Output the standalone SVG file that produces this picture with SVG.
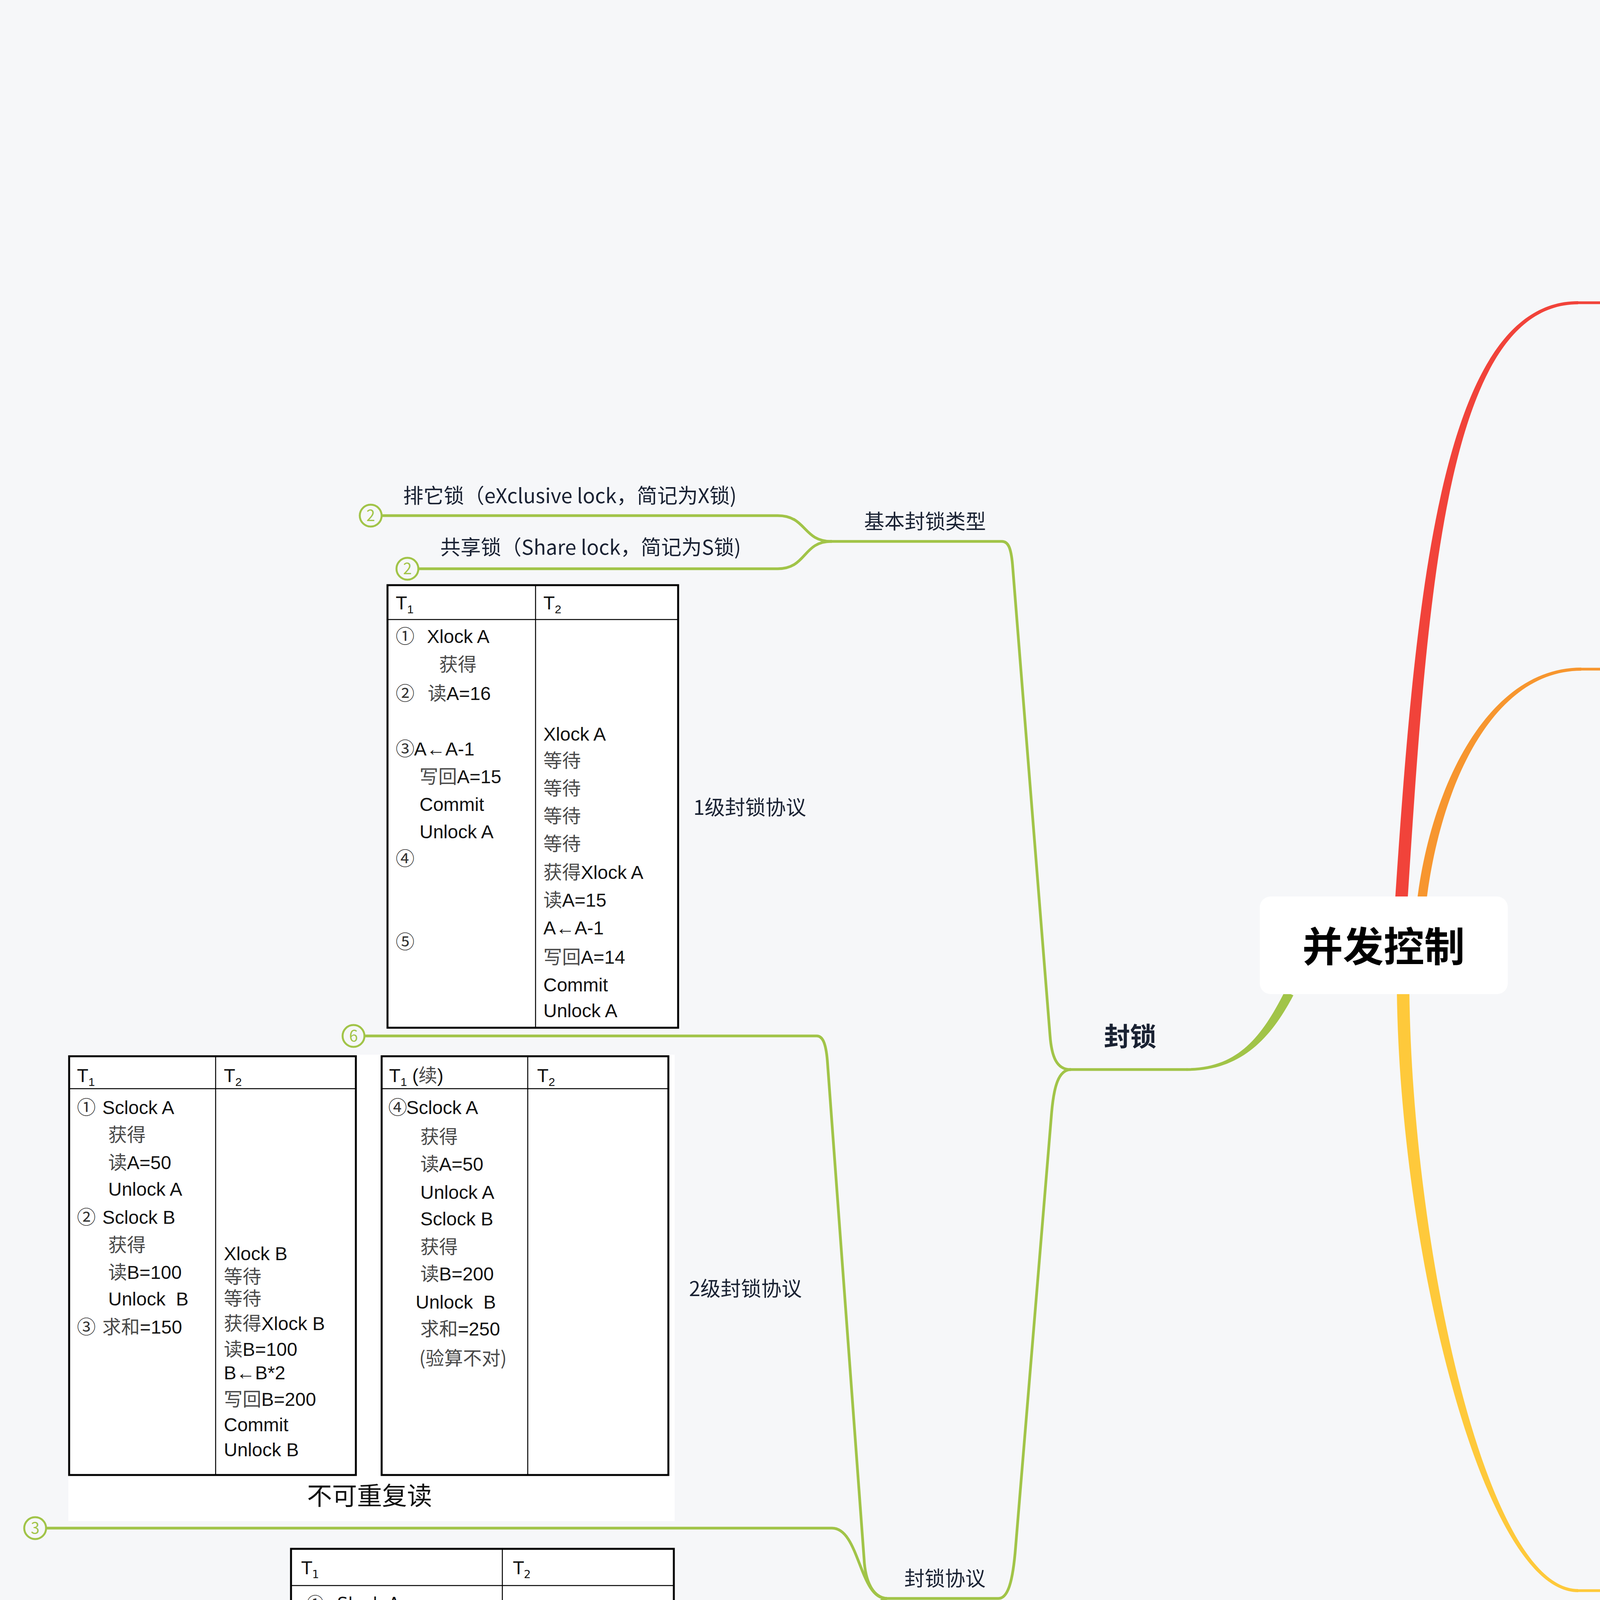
<svg xmlns="http://www.w3.org/2000/svg" width="7452" height="5600" viewBox="0 0 7452 5600">
<style>
.t{font-family:"Noto Sans CJK SC","Noto Sans",sans-serif;fill:#1a2233;font-size:52px}
.b{font-weight:bold;font-size:67px}
.ln{fill:none;stroke-width:7;stroke-linecap:round;stroke-linejoin:round}
.r{stroke:#f1433a}.o{stroke:#f7962f}.y{stroke:#fec93b}.g{stroke:#a1c448}
.cc circle{fill:#f6f7f9;stroke-width:5}
.cc text{font-family:"Noto Sans CJK SC",sans-serif;font-size:40px;text-anchor:middle}
.tx{font-family:"Liberation Sans","Noto Sans CJK SC",sans-serif;fill:#111}
.vd{font-family:"DejaVu Sans","Noto Sans CJK SC",sans-serif;fill:#111}
.cn{font-family:"Noto Sans CJK SC",sans-serif;fill:#4a4a4a}
.ci{font-family:"Noto Sans CJK SC",sans-serif;fill:#333}
.fr{fill:#fff;stroke:#000;stroke-width:5}
.fp{fill:none;stroke:#000;stroke-width:5}
.tl{stroke:#000;stroke-width:2.5}
.pk{fill:#ffe6f6}
.cap{font-family:"Liberation Serif","Noto Sans CJK SC",serif;font-weight:bold;fill:#111;font-size:64px}
</style>
<rect width="7452" height="5600" fill="#f6f7f9"/>

<g id="connectors">
  <!-- red -->
  <path fill="#f1433a" d="M 3572 2296 C 3625 1500, 3694 771, 4040 771 L 4040 779 C 3706 779, 3655 1500, 3604 2296 Z"/>
  <path class="ln r" d="M 4040 775 L 4690 775"/>
  <path class="ln r" d="M 4690 775 C 4722 772, 4745 735, 4752 690 L 4800 400 C 4808 350, 4830 326, 4870 326 L 5314 326"/>
  <path class="ln r" d="M 4690 775 C 4740 775, 4745 723, 4830 723 L 6055 723"/>
  <path class="ln r" d="M 4690 775 C 4722 778, 4738 820, 4745 870 L 4800 1150 C 4810 1200, 4830 1220, 4870 1220 L 5753 1220"/>
  <path class="ln r" d="M 5314 326 C 5400 326, 5394 224, 5480 224 L 6648 224"/>
  <path class="ln r" d="M 5314 326 C 5400 326, 5394 426, 5480 426 L 6648 426"/>
  <path class="ln r" d="M 6055 723 C 6140 723, 6120 621, 6205 621 L 7385 621"/>
  <path class="ln r" d="M 6055 723 C 6140 723, 6120 824, 6205 824 L 7385 824"/>
  <path class="ln r" d="M 5753 1220 C 5850 1220, 5830 1087, 5925 1087 L 7096 1087"/>
  <path class="ln r" d="M 5753 1220 L 6882 1220"/>
  <path class="ln r" d="M 5753 1220 C 5850 1220, 5830 1356, 5925 1356 L 6513 1356"/>
  <!-- orange -->
  <path fill="#f7962f" d="M 3629 2296 C 3668 2000, 3815 1709, 4048 1709 L 4048 1717 C 3825 1717, 3692 2000, 3653 2296 Z"/>
  <path class="ln o" d="M 4048 1713 L 4815 1713"/>
  <path class="ln o" d="M 4815 1713 C 4900 1713, 4900 1585, 4990 1585 L 5638 1585"/>
  <path class="ln o" d="M 4815 1713 L 5481 1713"/>
  <path class="ln o" d="M 4815 1713 C 4900 1713, 4900 1841, 4990 1841 L 5533 1841"/>
  <!-- yellow -->
  <path fill="#fec93b" d="M 3576 2540 C 3584 3200, 3795 4076, 4040 4076 L 4040 4068 C 3805 4068, 3616 3200, 3608 2540 Z"/>
  <path class="ln y" d="M 4040 4072 L 5086 4072"/>
  <path class="ln y" d="M 5086 4072 C 5140 4072, 5160 4030, 5165 3980 L 5185 3190 C 5190 3135, 5210 3109, 5252 3109 L 6755 3109"/>
  <path class="ln y" d="M 5086 4072 L 7045 4072"/>
  <path class="ln y" d="M 5086 4072 C 5140 4072, 5160 4115, 5165 4165 L 5185 4945 C 5190 5000, 5210 5027, 5252 5027 L 6742 5027"/>
  <!-- green -->
  <path fill="#a1c448" d="M 3289 2538 C 3230 2655, 3168 2734.5, 3038 2734.5 L 3038 2741.5 C 3172 2741.5, 3250 2665, 3311 2548 Z"/>
  <path class="ln g" d="M 3038 2738 L 2740 2738"/>
  <path class="ln g" d="M 2740 2738 C 2705 2738, 2692 2705, 2688 2650 L 2592 1445 C 2588 1400, 2580 1386, 2565 1386 L 2128 1386"/>
  <path class="ln g" d="M 2128 1386 C 2055 1386, 2065 1320, 1991 1320 L 977 1320"/>
  <path class="ln g" d="M 2128 1386 C 2055 1386, 2065 1456, 1991 1456 L 1071 1456"/>
  <path class="ln g" d="M 2740 2738 C 2710 2740, 2698 2780, 2692 2850 L 2600 3960 C 2593 4050, 2580 4092, 2556 4092 L 2269 4092"/>
  <path class="ln g" d="M 2269 4092 C 2235 4088, 2215 4050, 2212 3990 L 2118 2715 C 2114 2668, 2105 2652, 2091 2652 L 933 2652"/>
  <path class="ln g" d="M 2269 4092 C 2200 4092, 2200 3912, 2130 3912 L 118 3912"/>
  <path class="ln g" d="M 2269 4092 C 2240 4098, 2225 4140, 2220 4200 L 2118 5465 C 2113 5512, 2105 5528, 2091 5528 L 684 5528"/>
  <!-- count markers -->
  <g class="cc">
    <circle cx="6783" cy="3109" r="28" stroke="#fec93b"/><text x="6783" y="3123" fill="#fec93b">2</text>
    <circle cx="7073" cy="4072" r="28" stroke="#fec93b"/><text x="7073" y="4086" fill="#fec93b">1</text>
    <circle cx="6770" cy="5027" r="28" stroke="#fec93b"/><text x="6770" y="5041" fill="#fec93b">5</text>
    <circle cx="949" cy="1320" r="28" stroke="#a1c448"/><text x="949" y="1334" fill="#a1c448">2</text>
    <circle cx="1043" cy="1456" r="28" stroke="#a1c448"/><text x="1043" y="1470" fill="#a1c448">2</text>
    <circle cx="905" cy="2652" r="28" stroke="#a1c448"/><text x="905" y="2666" fill="#a1c448">6</text>
    <circle cx="90" cy="3912" r="28" stroke="#a1c448"/><text x="90" y="3926" fill="#a1c448">3</text>
    <circle cx="656" cy="5528" r="28" stroke="#a1c448"/><text x="656" y="5542" fill="#a1c448">2</text>
  </g>
</g>

<g id="root">
  <rect x="3225" y="2295" width="635" height="250" rx="28" fill="#fff"/>
  <text x="3542" y="2462" text-anchor="middle" font-family="Noto Sans CJK SC, sans-serif" font-weight="bold" font-size="104" fill="#000">并发控制</text>
</g>

<g id="n-multi" class="t">
  <text class="t b" x="4125" y="714">多事务执行方式</text>
</g>
<g id="n-serial" class="t">
  <text class="t" x="4897" y="292">⑴事务串行执行</text>
  <text class="t" x="5516" y="124">每个时刻只有一个事务运行，其他事务必须等到</text>
  <text class="t" x="5516" y="191">这个事务结束以后方能运行</text>
  <text class="t" x="5516" y="328">不能充分利用系统资源，发挥数据库共享资源的</text>
  <text class="t" x="5516" y="394">特点</text>
</g>
<g id="n-interleaved">
  <text class="t" x="4897" y="691">⑵交叉并发方式（interleaved concurrency)</text>
  <text class="t" x="6258" y="522">事务的并行执行是这些并行事务的并行操作轮流</text>
  <text class="t" x="6258" y="589">交叉运行</text>
  <text class="t" x="6258" y="724">是单处理机系统中的并发方式，能够减少处理机</text>
  <text class="t" x="6258" y="791">的空闲时间，提高系统的效率</text>
</g>
<g id="n-simultaneous">
  <text class="t" x="4897" y="1124">⑶同时并发方式（simultaneous</text>
  <text class="t" x="4897" y="1190">concurrency)</text>
  <text class="t" x="5960" y="918">多处理机系统中，每个处理机可以运行一个事</text>
  <text class="t" x="5960" y="985">务，多个处理机可以同时运行多个事务，实现多</text>
  <text class="t" x="5960" y="1052">个事务真正的并行运行</text>
  <text class="t" x="5960" y="1188">最理想的并发方式，但受制于硬件环境</text>
  <text class="t" x="5960" y="1322">更复杂的并发方式机制</text>
</g>

<g id="n-task">
  <text class="t b" x="4128" y="1652">并发控制机制的任务</text>
  <text class="t" x="5028" y="1553">对并发操作进行正确调度</text>
  <text class="t" x="5028" y="1680">保证事务的隔离性</text>
  <text class="t" x="5028" y="1809">保证数据库的一致性</text>
</g>

<g id="n-inconsistency">
  <text class="t b" x="4125" y="4008">并发操作带来的数据不一致性</text>
</g>

<g id="n-lost-update">
  <rect class="pk" x="5301" y="1984" width="749" height="1106"/>
  <rect class="fp" x="5364" y="2056" width="638" height="888"/>
  <line class="tl" x1="5364" y1="2144" x2="6002" y2="2144"/>
  <line class="tl" x1="5704" y1="2056" x2="5704" y2="2944"/>
  <g font-size="54">
    <text class="tx" x="5385" y="2128">T<tspan font-size="34" dy="12">1</tspan></text>
    <text class="tx" x="5724" y="2128">T<tspan font-size="34" dy="12">2</tspan></text>
    <text class="ci" x="5383" y="2208">①</text><text class="tx" x="5458" y="2208"><tspan class="cn">读</tspan>A=16</text>
    <text class="ci" x="5383" y="2368">②</text>
    <text class="tx" x="5725" y="2400"><tspan class="cn">读</tspan>A=16</text>
    <text class="ci" x="5383" y="2533">③</text><text class="tx" x="5455" y="2533">A←A-1</text>
    <text class="cn" x="5457" y="2612">写回</text>
    <text class="tx" x="5383" y="2677">A=15</text>
    <text class="ci" x="5383" y="2838">④</text>
    <text class="tx" x="5722" y="2800">A←A-1</text>
    <text class="tx" x="5725" y="2882"><tspan class="cn">写回</tspan>A=15</text>
  </g>
  <text class="cap" x="5500" y="3050">(a) 丢失修改</text>
  <text class="t" x="6091" y="2560">丢失修改（lost update)</text>
</g>

<g id="n-nonrepeatable">
  <rect class="pk" x="5302" y="3151" width="747" height="908"/>
  <rect class="fp" x="5353" y="3184" width="670" height="781"/>
  <line class="tl" x1="5353" y1="3260" x2="6023" y2="3260"/>
  <line class="tl" x1="5717" y1="3184" x2="5717" y2="3965"/>
  <g font-size="46">
    <text class="tx" x="5371" y="3240">T<tspan font-size="30" dy="10">1</tspan></text>
    <text class="tx" x="5734" y="3240">T<tspan font-size="30" dy="10">2</tspan></text>
    <text class="ci" x="5367" y="3317">①</text><text class="tx" x="5435" y="3317"><tspan class="cn">读</tspan>A=50</text>
    <text class="tx" x="5446" y="3387"><tspan class="cn">读</tspan>B=100</text>
    <text class="tx" x="5446" y="3458"><tspan class="cn">求和</tspan>=150</text>
    <text class="ci" x="5367" y="3527">②</text>
    <text class="tx" x="5737" y="3553"><tspan class="cn">读</tspan>B=100</text>
    <text class="tx" x="5765" y="3620">B←B*2</text>
    <text class="tx" x="5737" y="3690"><tspan class="cn">写回</tspan>B=200</text>
    <text class="ci" x="5367" y="3735">③</text><text class="tx" x="5435" y="3735"><tspan class="cn">读</tspan>A=50</text>
    <text class="tx" x="5446" y="3808"><tspan class="cn">读</tspan>B=200</text>
    <text class="tx" x="5446" y="3875"><tspan class="cn">求和</tspan>=250</text>
    <text class="cn" x="5416" y="3948">(验算不对)</text>
  </g>
  <text class="cap" x="5480" y="4033" font-size="60">(b) 不可重复读</text>
  <text class="t" x="6089" y="3627">不可重复读（non-repeatable read)</text>
</g>

<g id="n-dirty">
  <rect class="pk" x="5302" y="4118" width="747" height="890"/>
  <rect class="fp" x="5335" y="4145" width="670" height="726"/>
  <line class="tl" x1="5335" y1="4228" x2="6005" y2="4228"/>
  <line class="tl" x1="5717" y1="4145" x2="5717" y2="4871"/>
  <g font-size="52">
    <text class="tx" x="5355" y="4210">T<tspan font-size="32" dy="11">1</tspan></text>
    <text class="tx" x="5740" y="4210">T<tspan font-size="32" dy="11">2</tspan></text>
    <text class="ci" x="5355" y="4293">①</text><text class="tx" x="5425" y="4293"><tspan class="cn">读</tspan>C=100</text>
    <text class="tx" x="5437" y="4365">C←C*2</text>
    <text class="tx" x="5437" y="4444"><tspan class="cn">写回</tspan>C</text>
    <text class="ci" x="5355" y="4522">②</text>
    <text class="tx" x="5740" y="4545"><tspan class="cn">读</tspan>C=200</text>
    <text class="ci" x="5355" y="4750">③</text><text class="tx" x="5425" y="4750">ROLLBACK</text>
    <text class="tx" x="5437" y="4826">C<tspan class="cn">恢复为</tspan>100</text>
  </g>
  <text class="cap" x="5371" y="4980" font-size="60">(c) 读 “脏” 数据</text>
  <text class="t" x="6089" y="4583">读“脏”数据（dirty read)</text>
</g>

<g id="n-lock">
  <text class="t b" x="2826" y="2678">封锁</text>
</g>

<g id="n-basic-types">
  <text class="t" x="2212" y="1354">基本封锁类型</text>
  <text class="t" x="1032" y="1288">排它锁（eXclusive lock，简记为X锁)</text>
  <text class="t" x="1127" y="1420">共享锁（Share lock，简记为S锁)</text>
</g>

<g id="n-protocol">
  <text class="t" x="2315" y="4060">封锁协议</text>
</g>

<g id="n-level1">
  <rect class="fr" x="992" y="1498" width="744" height="1133"/>
  <line class="tl" x1="992" y1="1586" x2="1736" y2="1586"/>
  <line class="tl" x1="1371" y1="1498" x2="1371" y2="2631"/>
  <g font-size="48">
    <text class="tx" x="1013" y="1560">T<tspan font-size="30" dy="10">1</tspan></text>
    <text class="tx" x="1391" y="1560">T<tspan font-size="30" dy="10">2</tspan></text>
    <text class="ci" x="1013" y="1646">①</text><text class="tx" x="1093" y="1646">Xlock A</text>
    <text class="cn" x="1124" y="1718">获得</text>
    <text class="ci" x="1013" y="1792">②</text><text class="tx" x="1095" y="1792"><tspan class="cn">读</tspan>A=16</text>
    <text class="ci" x="1013" y="1934">③</text><text class="tx" x="1060" y="1934">A←A-1</text>
    <text class="tx" x="1074" y="2005"><tspan class="cn">写回</tspan>A=15</text>
    <text class="tx" x="1074" y="2076">Commit</text>
    <text class="tx" x="1074" y="2146">Unlock A</text>
    <text class="ci" x="1013" y="2215">④</text>
    <text class="ci" x="1013" y="2428">⑤</text>
    <text class="tx" x="1391" y="1896">Xlock A</text>
    <text class="cn" x="1391" y="1964">等待</text>
    <text class="cn" x="1391" y="2035">等待</text>
    <text class="cn" x="1391" y="2106">等待</text>
    <text class="cn" x="1391" y="2177">等待</text>
    <text class="tx" x="1391" y="2250"><tspan class="cn">获得</tspan>Xlock A</text>
    <text class="tx" x="1391" y="2321"><tspan class="cn">读</tspan>A=15</text>
    <text class="tx" x="1391" y="2392">A←A-1</text>
    <text class="tx" x="1391" y="2467"><tspan class="cn">写回</tspan>A=14</text>
    <text class="tx" x="1391" y="2538">Commit</text>
    <text class="tx" x="1391" y="2604">Unlock A</text>
  </g>
  <text class="t" x="1775" y="2086">1级封锁协议</text>
</g>

<g id="n-level2">
  <rect x="175" y="2700" width="1552" height="1194" fill="#fff"/>
  <rect class="fp" x="177" y="2704" width="734" height="1072"/>
  <line class="tl" x1="177" y1="2787" x2="911" y2="2787"/>
  <line class="tl" x1="552" y1="2704" x2="552" y2="3776"/>
  <rect class="fp" x="977" y="2704" width="734" height="1072"/>
  <line class="tl" x1="977" y1="2787" x2="1711" y2="2787"/>
  <line class="tl" x1="1351" y1="2704" x2="1351" y2="3776"/>
  <g font-size="48">
    <text class="tx" x="197" y="2770">T<tspan font-size="30" dy="10">1</tspan></text>
    <text class="tx" x="573" y="2770">T<tspan font-size="30" dy="10">2</tspan></text>
    <text class="ci" x="197" y="2852">①</text><text class="tx" x="262" y="2852">Sclock A</text>
    <text class="cn" x="277" y="2922">获得</text>
    <text class="tx" x="277" y="2993"><tspan class="cn">读</tspan>A=50</text>
    <text class="tx" x="277" y="3061">Unlock A</text>
    <text class="ci" x="197" y="3133">②</text><text class="tx" x="262" y="3133">Sclock B</text>
    <text class="cn" x="277" y="3204">获得</text>
    <text class="tx" x="277" y="3274"><tspan class="cn">读</tspan>B=100</text>
    <text class="tx" x="277" y="3342" xml:space="preserve">Unlock  B</text>
    <text class="ci" x="197" y="3414">③</text><text class="tx" x="262" y="3414"><tspan class="cn">求和</tspan>=150</text>
    <text class="tx" x="573" y="3226">Xlock B</text>
    <text class="cn" x="573" y="3285">等待</text>
    <text class="cn" x="573" y="3341">等待</text>
    <text class="tx" x="573" y="3405"><tspan class="cn">获得</tspan>Xlock B</text>
    <text class="tx" x="573" y="3471"><tspan class="cn">读</tspan>B=100</text>
    <text class="tx" x="573" y="3531">B←B*2</text>
    <text class="tx" x="573" y="3599"><tspan class="cn">写回</tspan>B=200</text>
    <text class="tx" x="573" y="3664">Commit</text>
    <text class="tx" x="573" y="3728">Unlock B</text>
    <text class="tx" x="996" y="2770">T<tspan font-size="30" dy="10">1</tspan><tspan dy="-10"> (</tspan><tspan class="cn">续</tspan>)</text>
    <text class="tx" x="1375" y="2770">T<tspan font-size="30" dy="10">2</tspan></text>
    <text class="ci" x="994" y="2852">④</text><text class="tx" x="1040" y="2852">Sclock A</text>
    <text class="cn" x="1076" y="2927">获得</text>
    <text class="tx" x="1076" y="2997"><tspan class="cn">读</tspan>A=50</text>
    <text class="tx" x="1076" y="3069">Unlock A</text>
    <text class="tx" x="1076" y="3137">Sclock B</text>
    <text class="cn" x="1076" y="3209">获得</text>
    <text class="tx" x="1076" y="3278"><tspan class="cn">读</tspan>B=200</text>
    <text class="tx" x="1064" y="3350" xml:space="preserve">Unlock  B</text>
    <text class="tx" x="1076" y="3419"><tspan class="cn">求和</tspan>=250</text>
    <text class="cn" x="1073" y="3494">(验算不对)</text>
  </g>
  <text x="946" y="3852" text-anchor="middle" font-family="Noto Sans CJK SC, sans-serif" font-size="64" fill="#111">不可重复读</text>
  <text class="t" x="1764" y="3318">2级封锁协议</text>
</g>

<g id="n-level3">
  <rect class="fr" x="745" y="3965" width="980" height="1544"/>
  <line class="tl" x1="745" y1="4059" x2="1725" y2="4059"/>
  <line class="tl" x1="1286" y1="3965" x2="1286" y2="5509"/>
  <g font-size="44">
    <text class="vd" x="772" y="4030">T<tspan font-size="28" dy="10">1</tspan></text>
    <text class="vd" x="1314" y="4030">T<tspan font-size="28" dy="10">2</tspan></text>
    <text class="ci" x="785" y="4121">①</text><text class="vd" x="863" y="4121">Slock A</text>
    <text class="vd" x="910" y="4190"><tspan class="cn">读</tspan>A=50</text>
    <text class="vd" x="907" y="4261">Slock B</text>
    <text class="vd" x="912" y="4331"><tspan class="cn">读</tspan>B=100</text>
    <text class="vd" x="895" y="4404"><tspan class="cn">求和</tspan>=150</text>
    <text class="ci" x="785" y="4472">②</text>
    <text class="ci" x="785" y="4679">③</text><text class="vd" x="883" y="4679"><tspan class="cn">读</tspan>A=50</text>
    <text class="vd" x="895" y="4749"><tspan class="cn">读</tspan>B=100</text>
    <text class="vd" x="895" y="4822"><tspan class="cn">求和</tspan>=150</text>
    <text class="vd" x="893" y="4890">Commit</text>
    <text class="vd" x="893" y="4963">Unlock A</text>
    <text class="vd" x="893" y="5031">Unlock B</text>
    <text class="ci" x="785" y="5102">④</text>
    <text class="ci" x="785" y="5309">⑤</text>
    <text class="vd" x="1312" y="4488">Xlock B</text>
    <text class="cn" x="1312" y="4556">等待</text>
    <text class="cn" x="1312" y="4623">等待</text>
    <text class="cn" x="1312" y="4697">等待</text>
    <text class="cn" x="1312" y="4765">等待</text>
    <text class="cn" x="1312" y="4833">等待</text>
    <text class="cn" x="1312" y="4906">等待</text>
    <text class="cn" x="1312" y="4974">等待</text>
    <text class="cn" x="1312" y="5042">等待</text>
    <text class="vd" x="1312" y="5120"><tspan class="cn">获得</tspan>Xlock B</text>
    <text class="vd" x="1312" y="5188"><tspan class="cn">读</tspan>B=100</text>
    <text class="vd" x="1312" y="5256">B←B*2</text>
    <text class="vd" x="1312" y="5329"><tspan class="cn">写回</tspan>B=200</text>
    <text class="vd" x="1312" y="5392">Commit</text>
    <text class="vd" x="1312" y="5474">Unlock B</text>
  </g>
  <text class="t" x="1765" y="4760">3级封锁协议</text>
</g>
</svg>
